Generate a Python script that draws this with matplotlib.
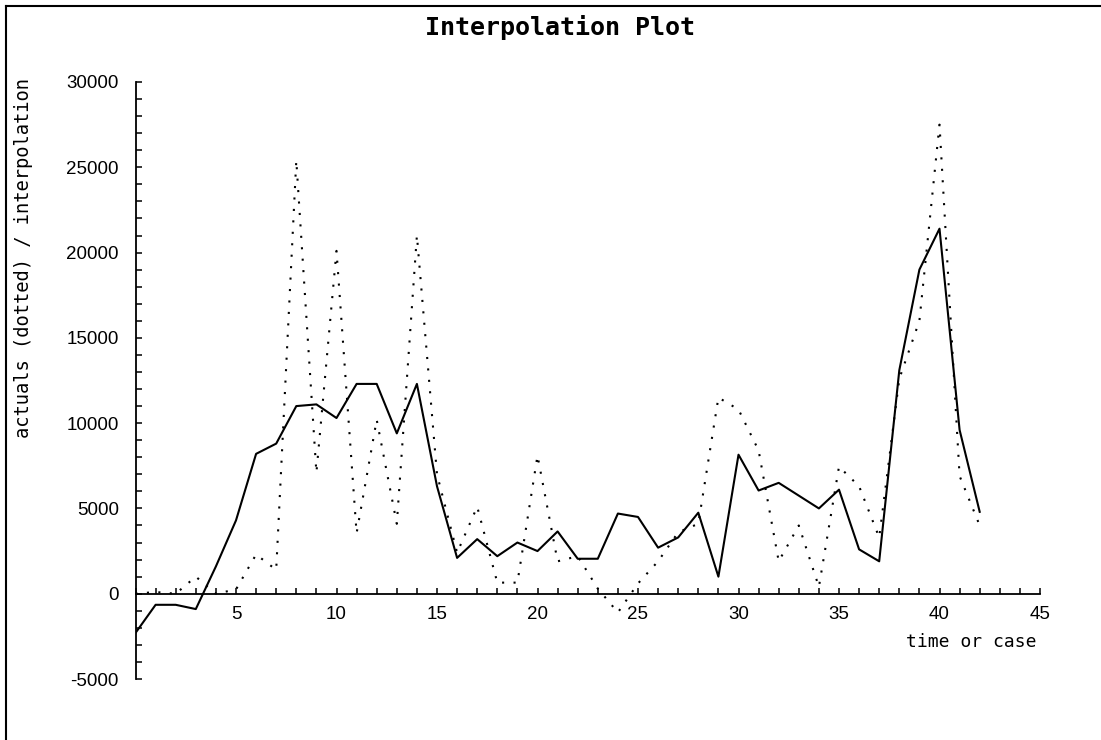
import matplotlib
matplotlib.use('Agg')
import matplotlib.pyplot as plt
from matplotlib.ticker import MultipleLocator, FixedLocator
from matplotlib.lines import Line2D

# time / case index
case = list(range(43))

# actuals (dotted line)
actuals = [0, 100, 0, 1000, 0, 250, 2300, 1400, 25400, 7100,
           20100, 3550, 10200, 4100, 21000, 7000, 2400, 5100, 650, 650,
           8100, 1900, 2200, 300, -1100, 600, 1900, 3600, 4100, 11500,
           10800, 8400, 1900, 4000, 400, 7450, 6300, 3300, 12600, 16000,
           27500, 6900, 4000]

# interpolation (solid line)
interp = [-2300, -650, -650, -900, 1600, 4300, 8200, 8800, 11000, 11100,
          10300, 12300, 12300, 9400, 12300, 6300, 2100, 3200, 2200, 3000,
          2500, 3650, 2050, 2050, 4700, 4500, 2700, 3300, 4750, 1000,
          8150, 6050, 6500, 5750, 5000, 6100, 2600, 1900, 13100, 19000,
          21400, 9600, 4800]

x_ticks = [5, 10, 15, 20, 25, 30, 35, 40, 45]
y_ticks = [-5000, 0, 5000, 10000, 15000, 20000, 25000, 30000]

W, H = 1101, 740
MONO = 'DejaVu Sans Mono'


def plot_interpolation():
    fig = plt.figure(figsize=(W / 100, H / 100), dpi=100, facecolor='white')
    ax = fig.add_axes([135.5 / W, 61 / H, 904.5 / W, 597 / H])

    ax.plot(case, interp, color='black', lw=1.5)
    ax.plot(case, actuals, color='black', lw=1.5, linestyle=(0, (1, 4.5)))

    ax.set_xlim(0, 45)
    ax.set_ylim(-5000, 30000)

    # axes cross at zero like the old plot
    ax.spines['top'].set_visible(False)
    ax.spines['right'].set_visible(False)
    ax.spines['bottom'].set_position(('data', 0))
    for s in ('left', 'bottom'):
        ax.spines[s].set_linewidth(1.3)

    ax.xaxis.set_major_locator(FixedLocator(x_ticks))
    ax.xaxis.set_minor_locator(MultipleLocator(1))
    ax.yaxis.set_major_locator(FixedLocator(y_ticks))
    ax.yaxis.set_minor_locator(MultipleLocator(1000))
    ax.set_xticklabels([str(t) for t in x_ticks])
    ax.set_yticklabels([str(t) for t in y_ticks])

    ax.tick_params(which='both', direction='in', length=4, width=1.1, color='black')
    ax.tick_params(axis='x', which='major', pad=9)
    ax.tick_params(axis='y', which='major', pad=12)
    for lab in ax.get_xticklabels() + ax.get_yticklabels():
        lab.set_fontfamily('Liberation Sans')
        lab.set_fontsize(13.5)

    fig.text(560 / W, 1 - 28 / H, 'Interpolation Plot', family=MONO,
             fontweight='semibold', fontsize=18, ha='center', va='center')
    fig.text(1037 / W, 1 - 642 / H, 'time or case', family=MONO,
             fontsize=13, ha='right', va='center')
    fig.text(24 / W, 1 - 258 / H, 'actuals (dotted) / interpolation', family=MONO,
             fontsize=13.5, rotation=90, ha='center', va='center')

    # frame round the picture (only left and top show)
    fig.add_artist(Line2D([6.5 / W, 6.5 / W], [0, 1 - 6 / H], transform=fig.transFigure,
                          color='black', lw=1.5))
    fig.add_artist(Line2D([6.5 / W, 1], [1 - 6 / H, 1 - 6 / H], transform=fig.transFigure,
                          color='black', lw=1.5))

    fig.savefig('out.png', dpi=100, facecolor='white')


if __name__ == '__main__':
    plot_interpolation()
